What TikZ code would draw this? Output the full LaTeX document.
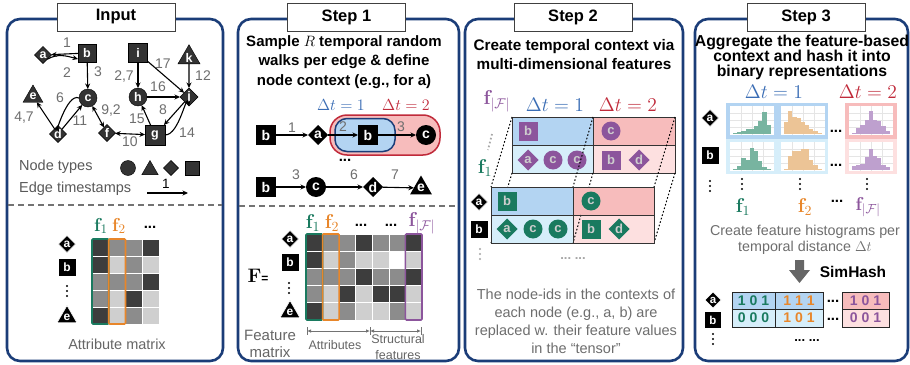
\documentclass[tikz,border=0pt]{standalone}
\usepackage{fix-cm}
\usepackage[no-math]{fontspec}
\setmainfont{Liberation Sans}
\usepackage{amsmath,amssymb,graphicx}
\usetikzlibrary{shapes.geometric,arrows.meta,calc}
\definecolor{navy}{RGB}{27,61,120}
\definecolor{fgreen}{RGB}{26,122,95}
\definecolor{forange}{RGB}{232,134,42}
\definecolor{fpurple}{RGB}{140,85,156}
\definecolor{dblue}{RGB}{58,109,181}
\definecolor{dred}{RGB}{192,42,58}
\definecolor{bgblue}{RGB}{179,212,242}
\definecolor{bgcyan}{RGB}{214,238,250}
\definecolor{bgred}{RGB}{247,188,188}
\definecolor{bgpink}{RGB}{253,224,224}
\definecolor{txtgray}{RGB}{110,110,110}
\definecolor{hgreen}{RGB}{120,180,160}
\definecolor{horange}{RGB}{236,196,150}
\definecolor{hpurple}{RGB}{190,160,206}
\definecolor{ltxt}{RGB}{205,205,205}
\newcommand{\fz}[1]{\fontsize{#1}{#1}\selectfont}
\newcommand{\sbx}[2]{\scalebox{#1}{#2}}
\newcommand{\fmat}[5]{%
  \foreach \row [count=\r from 0] in {#5} {
    \foreach \v [count=\k from 0] in \row {
      \fill[fill=black!\v, draw=white, line width=.7pt] (#1+\k*#3, #2+\r*#4) rectangle ++(#3,#4);
    }
  }
}
\newcommand{\histplot}[4]{%
  \fill[white] (#1,#2) rectangle ++(44,29);
  \foreach \gx in {11,22,33} {\draw[black!10,line width=.5pt] (#1+\gx,#2) -- ++(0,29);}
  \foreach \gy in {7,14,21} {\draw[black!10,line width=.5pt] (#1,#2+\gy) -- ++(44,0);}
  \foreach \hh [count=\ii from 0] in {#4} {\fill[#3] (#1+3+\ii*4.2,#2+28) rectangle ++(4.2,-\hh*26);}
}
\newcommand{\vdt}[3]{\foreach \dy in {-5,0,5} {\fill[#3] (#1,#2+\dy) circle[radius=1.2];}}
\begin{document}
\begin{tikzpicture}[x=1pt,y=-1pt,
 panel/.style={draw=navy,line width=2.6pt,rounded corners=13pt},
 titlebox/.style={draw=black!75,fill=white,line width=0.9pt,minimum width=118pt,minimum height=28pt,inner sep=0pt,font=\bfseries\fz{16.5}},
 sqn/.style={rectangle,fill=black,text=white,inner sep=0pt,outer sep=0pt,minimum size=#1},
 sqn/.default=18,
 cin/.style={circle,fill=black,text=white,inner sep=0pt,outer sep=0pt,minimum size=#1},
 cin/.default=18,
 din/.style={diamond,aspect=1,fill=black,text=white,inner sep=0pt,outer sep=0pt,minimum size=#1},
 din/.default=18,
 trn/.style={regular polygon,regular polygon sides=3,fill=black,text=white,inner sep=0pt,outer sep=0pt,minimum size=#1},
 trn/.default=22,
 arr/.style={-{Stealth[length=5.5pt,width=5pt]},line width=1.1pt},
 darr/.style={{Stealth[length=5.5pt,width=5pt]}-{Stealth[length=5.5pt,width=5pt]},line width=1.1pt},
 garr/.style={{Latex[length=4pt,width=3.5pt]}-{Latex[length=4pt,width=3.5pt]},line width=1pt,draw=black!55},
 elab/.style={text=txtgray,font=\fz{14},inner sep=0pt},
 gtxt/.style={text=txtgray,inner sep=0pt,align=center},
 ttl/.style={align=center,inner sep=0pt},
 dlt/.style={font=\fz{16},inner sep=0pt},
 flab/.style={font=\fz{17},inner sep=0pt},
 dotl/.style={line width=1pt,dash pattern=on 1.6pt off 2pt},
 sepl/.style={draw=black!55,line width=1.3pt,dash pattern=on 6pt off 4pt},
 pshape/.style={fill=fpurple,text=ltxt,font=\bfseries\fz{13}},
 gshape/.style={fill=fgreen,text=ltxt,font=\bfseries\fz{13}},
 dts/.style={font=\bfseries\fz{15},inner sep=0pt},
]
\fill[white] (0,0) rectangle (910,364);
\useasboundingbox (0,0) rectangle (910,364);

% ================= PANEL 1 =================
\draw[panel] (7,19) rectangle (223,361);
\node[titlebox] (T1) at (116,17) {Input};

\begin{scope}[every node/.append style={font=\bfseries\fz{12.5}}]
\node[din=17,fill=black!80,draw=black] (a) at (43,55) {a};
\node[sqn=18,fill=black!80,draw=black] (b) at (87,53) {b};
\node[cin=18,fill=black!80,draw=black] (c) at (88,98) {c};
\node[trn=23,fill=black!80,draw=black] (e) at (33,96.5) {e};
\node[din=17,fill=black!80,draw=black] (d) at (58,134) {d};
\node[din=17,fill=black!80,draw=black] (f) at (107,133) {f};
\node[sqn=20,fill=black!80,draw=black] (g) at (155,135) {g};
\node[cin=18,fill=black!80,draw=black] (h) at (138,97) {h};
\node[sqn=19,fill=black!80,draw=black] (i) at (138,53) {i};
\node[din=18,fill=black!80,draw=black] (j) at (189,97) {j};
\node[trn=23,fill=black!80,draw=black] (k) at (189,57.5) {k};
\end{scope}

\draw[arr] (b) -- (a);
\draw[arr] (a.south east) to[out=30,in=165] ($(b.west)+(0,6)$);
\draw[arr] (b) -- (c);
\draw[arr] (i) -- (h);
\draw[arr] (i) -- (j);
\draw[arr] (k) -- (j);
\draw[arr] (h) -- (j);
\draw[arr] (j) -- (g);
\draw[arr] (g.east) to[out=0,in=100] (j.south);
\draw[arr] (g) -- (h);
\draw[arr] (c.west) to[out=155,in=-105] (d.north);
\draw[arr] (d) -- (c);
\draw[arr] (d) -- (e);
\draw[darr] (c) -- (f);
\draw[darr] (f) -- (g);

\node[elab] (l1) at (67,43) {1};
\node[elab] (l2) at (67,73) {2};
\node[elab] (l3) at (98,72) {3};
\node[elab] (l27) at (124,77) {2,7};
\node[elab] (l17) at (163,64) {17};
\node[elab] (l12) at (203,76) {12};
\node[elab] (l16) at (158,87) {16};
\node[elab] (l8) at (163,110) {8};
\node[elab] (l14) at (187,133) {14};
\node[elab] (l15) at (137,119) {15};
\node[elab] (l6) at (60,98) {6};
\node[elab] (l11) at (80,121) {11};
\node[elab] (l47) at (24,118) {4,7};
\node[elab] (l92) at (111,111) {9,2};
\node[elab] (l10) at (130,142) {10};

% legend
\node[text=black!65,font=\fz{14.5},anchor=west,inner sep=0pt] (nt) at (19,167) {Node types};
\node[cin=15,fill=black!80,draw=black] (lg1) at (128,168) {};
\node[trn=19,fill=black!80,draw=black] (lg2) at (150,170) {};
\node[din=15,fill=black!80,draw=black] (lg3) at (171,168) {};
\node[sqn=14,fill=black!80,draw=black] (lg4) at (192,168) {};
\node[text=black!65,font=\fz{14.5},anchor=west,inner sep=0pt] (et) at (19,189) {Edge timestamps};
\coordinate (LA) at (147,193);
\coordinate (LB) at (188,193);
\draw[arr] (LA) -- (LB);
\node[font=\fz{13.5},inner sep=0pt] (l1b) at (166,184) {1};

\coordinate (S1a) at (8,205);
\coordinate (S1b) at (222,205);
\draw[sepl] (S1a) -- (S1b);

% attribute matrix
\node[flab,text=fgreen] (af1) at (101,226) {\sbx{1.1}{$\mathbf{f}_1$}};
\node[flab,text=forange] (af2) at (119,226) {\sbx{1.1}{$\mathbf{f}_2$}};
\node[dts] (adots) at (150,227) {...};
\fmat{92}{239}{16.75}{17}{{76,45,45,76},{76,19,45,19},{45,45,45,76},{45,19,76,19},{76,19,45,19}}
\draw[fgreen,line width=1.6pt,rounded corners=1pt] (92,239) rectangle (108.75,324);
\draw[forange,line width=1.6pt,rounded corners=1pt] (108.75,239) rectangle (125.5,324);
\begin{scope}[every node/.append style={font=\bfseries\fz{12}}]
\node[din=17,draw=white,line width=.6pt] (ma) at (67,244) {a};
\node[sqn=18,draw=white,line width=.6pt] (mb) at (67,267) {b};
\node[trn=23,draw=white,line width=.6pt] (me) at (67,317) {e};
\end{scope}
\vdt{67}{291}{black}
\node[text=black!60,font=\fz{14.5},inner sep=0pt] (am) at (117,344) {Attribute matrix};

% ================= PANEL 2 =================
\draw[panel] (238,19) rectangle (459,361);
\node[titlebox] (T2) at (346.5,17) {Step 1};
\node[ttl,font=\bfseries\fontsize{15}{19.3}\selectfont] (st1) at (344,62) {Sample $R$ temporal random\\walks per edge \& define\\node context (e.g., for a)};
\node[dlt,text=dblue] (dt1) at (341,105) {$\Delta t=1$};
\node[dlt,text=dred] (dt2) at (406,105) {$\Delta t=2$};
\draw[draw=dred,fill=bgred,line width=1.5pt,rounded corners=17pt] (330,115) rectangle (440,155);
\draw[draw=navy,fill=bgblue,line width=1.5pt,rounded corners=12pt] (335,118.5) rectangle (395,151.5);
\begin{scope}[every node/.append style={font=\bfseries\fz{14}}]
\node[sqn=20] (w1b) at (266,135) {b};
\node[din=20] (w1a) at (318,135) {a};
\node[sqn=20] (w1b2) at (368,135) {b};
\node[cin=20] (w1c) at (426,135) {c};
\node[sqn=20] (w2b) at (266,187) {b};
\node[cin=20] (w2c) at (316,187) {c};
\node[din=20] (w2d) at (373,187) {d};
\node[trn=25] (w2e) at (421,188) {e};
\end{scope}
\draw[arr] (w1b) -- (w1a);
\draw[arr] (w1a) -- (w1b2);
\draw[arr] (w1b2) -- (w1c);
\draw[arr] (w2b) -- (w2c);
\draw[arr] (w2c) -- (w2d);
\draw[arr] (w2d) -- (w2e);
\node[elab] (wl1) at (292,128) {1};
\node[elab] (wl2) at (343,127) {2};
\node[elab] (wl3) at (401,127) {3};
\node[elab] (wl4) at (296,175) {3};
\node[elab] (wl5) at (354,175) {6};
\node[elab] (wl6) at (395,175) {7};
\node[dts] (wdots) at (345,160) {...};

\coordinate (S2a) at (239,206);
\coordinate (S2b) at (458,206);
\draw[sepl] (S2a) -- (S2b);

% feature matrix
\node[flab,text=fgreen] (ff1) at (313,223) {\sbx{1.17}{$\mathbf{f}_1$}};
\node[flab,text=forange] (ff2) at (332,223) {\sbx{1.17}{$\mathbf{f}_2$}};
\node[dts] (fd1) at (361,225) {...};
\node[dts] (fd2) at (391,225) {...};
\node[flab,text=fpurple] (ffF) at (422,223) {\sbx{1.18}{$\mathbf{f}_{|\mathcal{F}|}$}};
\fmat{306}{234}{16.57}{17.2}{{76,45,45,76,45,45,76},{76,19,45,19,19,0,19},{45,45,45,76,45,45,76},{45,19,76,19,76,76,19},{76,19,45,19,19,45,19}}
\draw[fgreen,line width=1.6pt,rounded corners=1pt] (306,234) rectangle (322.57,320);
\draw[forange,line width=1.6pt,rounded corners=1pt] (322.57,234) rectangle (339.14,320);
\draw[fpurple,line width=1.6pt,rounded corners=1pt] (405.43,234) rectangle (422,320);
\begin{scope}[every node/.append style={font=\bfseries\fz{12}}]
\node[din=17,draw=white,line width=.6pt] (fa) at (290,239) {a};
\node[sqn=18,draw=white,line width=.6pt] (fb) at (290,262) {b};
\node[trn=23,draw=white,line width=.6pt] (fe) at (290,312) {e};
\end{scope}
\vdt{289}{288}{black}
\node[inner sep=0pt] (Feq) at (258,276) {\sbx{1.15}{\fz{17}$\mathbf{F}$}\fz{12}\textbf{=}};
\coordinate (B1) at (307,331);
\coordinate (B2) at (370,331);
\coordinate (B3) at (421,331);
\draw[garr] (B1) -- (B2);
\draw[garr] (B2) -- (B3);
\draw[draw=black!55,line width=1pt] ($(B1)+(0,-4)$) -- ($(B1)+(0,4)$);
\draw[draw=black!55,line width=1pt] ($(B2)+(0,-4)$) -- ($(B2)+(0,4)$);
\draw[draw=black!55,line width=1pt] ($(B3)+(0,-4)$) -- ($(B3)+(0,4)$);
\node[gtxt,font=\fontsize{15}{17}\selectfont,text=black!60] (fmx) at (270,344) {Feature\\matrix};
\node[gtxt,font=\fz{12.5},text=black!60] (attr) at (335,345) {Attributes};
\node[gtxt,font=\fontsize{12.5}{16}\selectfont,text=black!60] (strf) at (398,347) {Structural\\features};

% ================= PANEL 3 =================
\draw[panel] (465,19) rectangle (683,361);
\node[titlebox] (T3) at (573,17) {Step 2};
\node[ttl,font=\bfseries\fontsize{15.3}{19}\selectfont] (st2) at (574,54.5) {Create temporal context via\\multi-dimensional features};
\node[flab,text=fpurple] (tF) at (497,101) {\sbx{1.18}{$\mathbf{f}_{|\mathcal{F}|}$}};
\node[dlt,text=dblue] (t3d1) at (555,105) {\sbx{1.22}{$\Delta t=1$}};
\node[dlt,text=dred] (t3d2) at (628,105) {\sbx{1.22}{$\Delta t=2$}};
% back layer
\fill[bgblue] (512,117) rectangle (593,145);
\fill[bgcyan] (512,145) rectangle (593,173);
\fill[bgred] (593,117) rectangle (675,145);
\fill[bgpink] (593,145) rectangle (675,173);
\draw[black!80,line width=.9pt] (512,117) rectangle (675,173);
\draw[black!80,line width=.9pt] (593,117) -- (593,173);
\draw[black!80,line width=.9pt] (512,145) -- (675,145);
\node[sqn=19,pshape] (pb1) at (528,131) {b};
\node[cin=19,pshape] (pc1) at (611,131) {c};
\node[din=21,pshape] (pa2) at (528,160) {a};
\node[cin=19,pshape] (pc2) at (553,160) {c};
\node[cin=19,pshape] (pc3) at (577,160) {c};
\node[sqn=19,pshape] (pb2) at (611,160) {b};
\node[din=21,pshape] (pd2) at (639,160) {d};
% connecting lines
\coordinate (K1) at (512,117); \coordinate (K2) at (593,117); \coordinate (K3) at (675,117);
\coordinate (K4) at (512,173); \coordinate (K5) at (593,173); \coordinate (K6) at (675,173);
\coordinate (R1) at (491,187); \coordinate (R2) at (573,187); \coordinate (R3) at (654,187);
\coordinate (R4) at (491,243); \coordinate (R5) at (573,243); \coordinate (R6) at (654,243);
\draw[dotl] (K1) -- (R1);
\draw[dotl] (K2) -- (R2);
\draw[dotl] (K3) -- (R3);
\draw[dotl] (K4) -- (R4);
\draw[dotl] (K5) -- (R5);
\draw[dotl] (K6) -- (R6);
% front layer
\fill[bgblue] (491,187) rectangle (573,215);
\fill[bgcyan] (491,215) rectangle (573,243);
\fill[bgred] (573,187) rectangle (654,215);
\fill[bgpink] (573,215) rectangle (654,243);
\coordinate (M5) at (581,215);
\draw[dotl] (M5) -- (R5);
\draw[black!80,line width=.9pt] (491,187) rectangle (654,243);
\draw[black!80,line width=.9pt] (573,187) -- (573,243);
\draw[black!80,line width=.9pt] (491,215) -- (654,215);
\node[sqn=19,gshape] (gb1) at (507,201) {b};
\node[cin=19,gshape] (gc1) at (591,201) {c};
\node[din=21,gshape] (ga2) at (507,229) {a};
\node[cin=19,gshape] (gc2) at (533,229) {c};
\node[cin=19,gshape] (gc3) at (558,229) {c};
\node[sqn=19,gshape] (gb2) at (591,229) {b};
\node[din=21,gshape] (gd2) at (619,229) {d};
\coordinate (V1) at (492,134); \coordinate (V2) at (488,150);
\draw[black!35,line width=1.8pt,dash pattern=on 1.6pt off 2.4pt] (V1) -- (V2);
\node[flab,text=fgreen] (tf1) at (485,168) {\sbx{1.17}{$\mathbf{f}_1$}};
\begin{scope}[every node/.append style={font=\bfseries\fz{12}}]
\node[din=17,draw=white,line width=.6pt] (ta) at (479,202) {a};
\node[sqn=17] (tb) at (479,229) {b};
\end{scope}
\vdt{480}{254}{black!35}
\node[dts,text=black!35,font=\bfseries\fz{13}] (tdd) at (573,259) {...\ ...};
\node[gtxt,font=\fontsize{14.5}{18}\selectfont] (t3txt) at (576,321) {The node-ids in the contexts of\\each node (e.g., a, b) are\\replaced w. their feature values\\in the “tensor”};

% ================= PANEL 4 =================
\draw[panel] (695,19) rectangle (908,361);
\node[titlebox] (T4) at (806,17) {Step 3};
\node[ttl,font=\bfseries\fontsize{15.8}{14.8}\selectfont] (st3) at (802,57.5) {Aggregate the feature-based\\context and hash it into\\binary representations};
\node[dlt,text=dblue] (h4d1) at (774,92) {\sbx{1.22}{$\Delta t=1$}};
\node[dlt,text=dred] (h4d2) at (868,92) {\sbx{1.22}{$\Delta t=2$}};
\fill[bgblue] (726,103) rectangle (828,139);
\fill[bgcyan] (726,139) rectangle (828,174);
\fill[bgred] (845,103) rectangle (897,139);
\fill[bgpink] (845,139) rectangle (897,174);
\histplot{730}{106}{hgreen}{0.05,0.08,0.12,0.18,0.2,0.3,0.5,0.85,0.35}
\histplot{781}{106}{horange}{0.45,0.9,0.65,0.6,0.45,0.35,0.2,0.1,0.05}
\histplot{849}{106}{hpurple}{0.05,0.25,0.35,0.55,0.9,0.55,0.5,0.3,0.1}
\histplot{730}{142}{hgreen}{0.05,0.15,0.45,0.4,0.85,0.75,0.35,0.1,0.03}
\histplot{781}{142}{horange}{0.05,0.55,0.75,0.75,0.8,0.8,0.4,0.2,0.05}
\histplot{849}{142}{hpurple}{0.15,0.2,0.25,0.5,0.8,0.55,0.45,0.2,0.1}
\node[dts] (hd1) at (836,131) {...};
\node[dts] (hd2) at (836,165) {...};
\begin{scope}[every node/.append style={font=\bfseries\fz{12}}]
\node[din=17,draw=white,line width=.6pt] (ha) at (710,118) {a};
\node[sqn=17] (hb) at (710,155) {b};
\end{scope}
\vdt{710}{186}{black}
\vdt{742}{184}{black}
\vdt{800}{184}{black}
\vdt{867}{184}{black}
\node[flab,text=fgreen] (hf1) at (743,207) {\sbx{1.17}{$\mathbf{f}_1$}};
\node[flab,text=forange] (hf2) at (805,207) {\sbx{1.17}{$\mathbf{f}_2$}};
\node[dts] (hfd) at (837,201) {...};
\node[flab,text=fpurple] (hfF) at (868,207) {\sbx{1.1}{$\mathbf{f}_{|\mathcal{F}|}$}};
\node[gtxt,font=\fontsize{14.3}{16.5}\selectfont] (h4txt) at (805,240) {Create feature histograms per\\temporal distance $\Delta t$};
\fill[black!60] (795,260) -- (804,260) -- (804,270) -- (810,270) -- (799.5,283) -- (789,270) -- (795,270) -- cycle;
\node[font=\bfseries\fz{15.5},inner sep=0pt] (sh) at (853,272) {SimHash};
\fill[bgblue] (732,292) rectangle (823,309);
\fill[bgcyan] (732,309) rectangle (823,327);
\fill[bgred] (842,292) rectangle (889,309);
\fill[bgpink] (842,309) rectangle (889,327);
\draw[black!85,line width=.9pt] (732,292) rectangle (823,327);
\draw[black!85,line width=.9pt] (775,292) -- (775,327);
\draw[black!85,line width=.9pt] (732,309) -- (823,309);
\draw[black!85,line width=.9pt] (842,292) rectangle (889,327);
\draw[black!85,line width=.9pt] (842,309) -- (889,309);
\begin{scope}[every node/.append style={font=\bfseries\fz{14},inner sep=0pt}]
\node[text=fgreen] (c11) at (753.5,300.5) {1\hspace{4pt}0\hspace{4pt}1};
\node[text=forange] (c12) at (799,300.5) {1\hspace{4pt}1\hspace{4pt}1};
\node[text=fpurple] (c13) at (865.5,300.5) {1\hspace{4pt}0\hspace{4pt}1};
\node[text=fgreen] (c21) at (753.5,318) {0\hspace{4pt}0\hspace{4pt}0};
\node[text=forange] (c22) at (799,318) {1\hspace{4pt}0\hspace{4pt}1};
\node[text=fpurple] (c23) at (865.5,318) {0\hspace{4pt}0\hspace{4pt}1};
\end{scope}
\node[dts] (cd1) at (833,301) {...};
\node[dts] (cd2) at (833,319) {...};
\begin{scope}[every node/.append style={font=\bfseries\fz{11.5}}]
\node[din=16,draw=white,line width=.6pt] (sa) at (713,300) {a};
\node[sqn=16] (sb) at (713,320) {b};
\end{scope}
\vdt{713}{339}{black}
\node[dts,font=\bfseries\fz{13}] (sdd) at (807,341) {...\ ...};
\end{tikzpicture}
\end{document}
